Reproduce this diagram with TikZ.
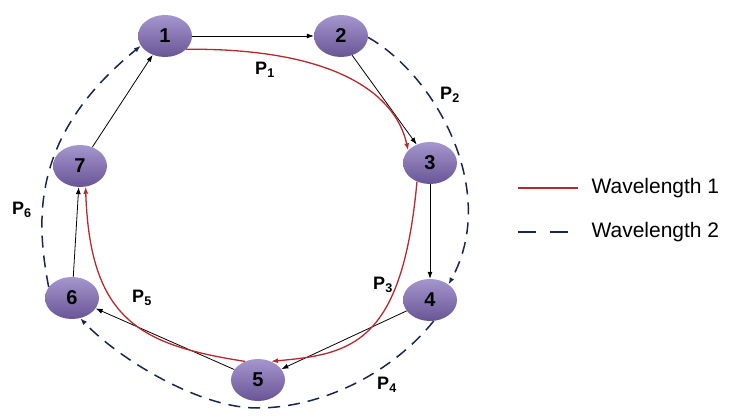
\documentclass[tikz,border=0pt]{standalone}
\usepackage{fontspec}
\setmainfont{Liberation Sans}
\usetikzlibrary{arrows.meta, shapes.geometric}
\definecolor{wlred}{RGB}{185,40,45}
\definecolor{wlnavy}{RGB}{25,38,80}
\definecolor{nodetop}{RGB}{165,150,205}
\definecolor{nodebot}{RGB}{105,85,150}

\begin{document}
\begin{tikzpicture}[
    x=1pt, y=1pt,
    >={Latex[length=7pt,width=5pt]},
    station/.style={ellipse, minimum width=54pt, minimum height=42pt, inner sep=0pt,
        top color=nodetop, bottom color=nodebot,
        font=\fontsize{20}{20}\selectfont\bfseries},
    hop/.style={->, line width=0.8pt, black},
    wlone/.style={->, line width=1.3pt, wlred},
    wltwo/.style={->, line width=1.5pt, wlnavy, dash pattern=on 12pt off 8pt},
    plabel/.style={font=\fontsize{18}{18}\selectfont\bfseries},
    legtext/.style={font=\fontsize{21}{21}\selectfont, anchor=west},
]
\useasboundingbox (0,0) rectangle (734,416);

%--- Nodes ---
\node[station] (n1) at (165,380) {1};
\node[station] (n2) at (341,380) {2};
\node[station] (n3) at (430,253) {3};
\node[station] (n4) at (430,116) {4};
\node[station] (n5) at (258,36)  {5};
\node[station] (n6) at (72,118)  {6};
\node[station] (n7) at (80,250)  {7};

%============================================================
% Ring links
%============================================================
\draw[hop] (n1) -- (n2);
\draw[hop] (n2.-60) -- (n3);
\draw[hop] (n3) -- (n4);
\draw[hop] (n4) -- (n5);
\draw[hop] (n5) -- (n6);
\draw[hop] (n6) -- (n7);
\draw[hop] (n7) -- (n1);

%============================================================
% Wavelength 1: P1, P3, P5
%============================================================
\draw[wlone] (n1.-32) .. controls (330,368) and (395,325) .. (n3.150);
\draw[wlone] (n3.-125) .. controls (402,70) and (350,62) .. (n5.55);
\draw[wlone] (n5.125) .. controls (140,71) and (90,96) .. (n7.-75);

%============================================================
% Wavelength 2: P2, P4, P6
%============================================================
\coordinate (low) at (257,8);
\draw[wltwo] (n2.-3) .. controls (435,341) and (500,225) .. (n4.40);
\draw[wltwo] (n4.-80) .. controls (390,41) and (320,8) .. (low)
    .. controls (200,8) and (120,56) .. (n6.-68);
\draw[wltwo] (n6.155) .. controls (36,196) and (30,280) .. (n1.202);

%--- Path labels ---
\node[plabel] (p1) at (265,346) {P\textsubscript{1}};
\node[plabel] (p2) at (450,321) {P\textsubscript{2}};
\node[plabel] (p3) at (383,131) {P\textsubscript{3}};
\node[plabel] (p4) at (387,31)  {P\textsubscript{4}};
\node[plabel] (p5) at (142,118) {P\textsubscript{5}};
\node[plabel] (p6) at (22,206)  {P\textsubscript{6}};

%============================================================
% Legend
%============================================================
\coordinate (la) at (518,228);
\coordinate (lb) at (578,228);
\coordinate (lc) at (518,184);
\coordinate (ld) at (578,184);
\draw[line width=1.3pt, wlred] (la) -- (lb);
\draw[line width=1.5pt, wlnavy, dash pattern=on 18pt off 14pt] (lc) -- (ld);
\node[legtext] (w1) at (588,228) {Wavelength 1};
\node[legtext] (w2) at (588,184) {Wavelength 2};

\end{tikzpicture}
\end{document}
